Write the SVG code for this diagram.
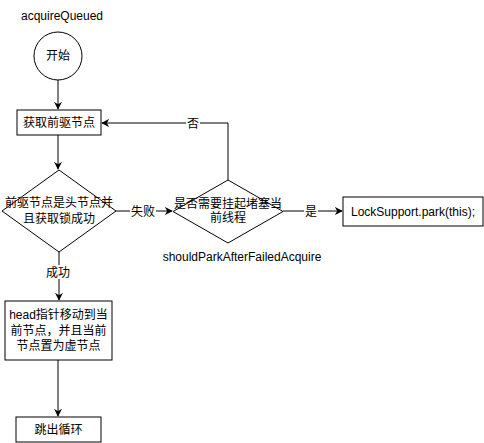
<svg xmlns="http://www.w3.org/2000/svg" width="484" height="443" viewBox="0 0 484 443">
<style>
.n{fill:#fff;stroke:#000;stroke-width:1}
.t{font-family:"Liberation Sans","Noto Sans CJK SC",sans-serif;font-size:12px;fill:#000;text-anchor:middle}
.e{fill:none;stroke:#000;stroke-width:1}
.lb{fill:#fff}
</style>
<defs>
<marker id="a" viewBox="0 0 10 10" refX="9" refY="5" markerWidth="8" markerHeight="8" markerUnits="userSpaceOnUse" orient="auto">
<path d="M0,0 L10,5 L0,10 L3,5 Z" fill="#000"/>
</marker>
</defs>
<text class="t" x="62" y="20">acquireQueued</text>
<g id="edges">
<path class="e" d="M58,80 V109" marker-end="url(#a)"/>
<path class="e" d="M58,135 V169" marker-end="url(#a)"/>
<path class="e" d="M116,211 H172" marker-end="url(#a)"/>
<rect class="lb" x="130" y="204" width="26" height="14"/>
<text class="t" x="143" y="216">失败</text>
<path class="e" d="M228,180 V123 H102" marker-end="url(#a)"/>
<rect class="lb" x="186" y="116" width="14" height="14"/>
<text class="t" x="193" y="128">否</text>
<path class="e" d="M283,211 H342" marker-end="url(#a)"/>
<rect class="lb" x="304" y="204" width="14" height="14"/>
<text class="t" x="311" y="216">是</text>
<path class="e" d="M59,252 V300" marker-end="url(#a)"/>
<rect class="lb" x="44" y="265" width="28" height="14"/>
<text class="t" x="58" y="277">成功</text>
<path class="e" d="M58,360 V416" marker-end="url(#a)"/>
</g>
<g id="start">
<circle class="n" cx="58" cy="56" r="24"/>
<text class="t" x="58" y="60">开始</text>
</g>
<g id="getPred">
<rect class="n" x="17" y="110" width="84" height="25"/>
<text class="t" x="59" y="127">获取前驱节点</text>
</g>
<g id="isHead">
<path class="n" d="M59,170 L116,211 L59,252 L2,211 Z"/>
<text class="t" x="59" y="207">前驱节点是头节点并</text>
<text class="t" x="59" y="223">且获取锁成功</text>
</g>
<g id="shouldPark">
<path class="n" d="M228,180 L283,211.5 L228,243 L173,211.5 Z"/>
<text class="t" x="228" y="208">是否需要挂起堵塞当</text>
<text class="t" x="228" y="222">前线程</text>
<text class="t" x="242" y="261">shouldParkAfterFailedAcquire</text>
</g>
<g id="park">
<rect class="n" x="343" y="197" width="140" height="29"/>
<text class="t" x="413" y="216">LockSupport.park(this);</text>
</g>
<g id="setHead">
<rect class="n" x="5" y="301" width="107" height="59"/>
<text class="t" x="58.5" y="319">head指针移动到当</text>
<text class="t" x="58.5" y="335">前节点，并且当前</text>
<text class="t" x="58.5" y="350">节点置为虚节点</text>
</g>
<g id="exit">
<rect class="n" x="16" y="417" width="85" height="25"/>
<text class="t" x="58.5" y="434">跳出循环</text>
</g>
</svg>
